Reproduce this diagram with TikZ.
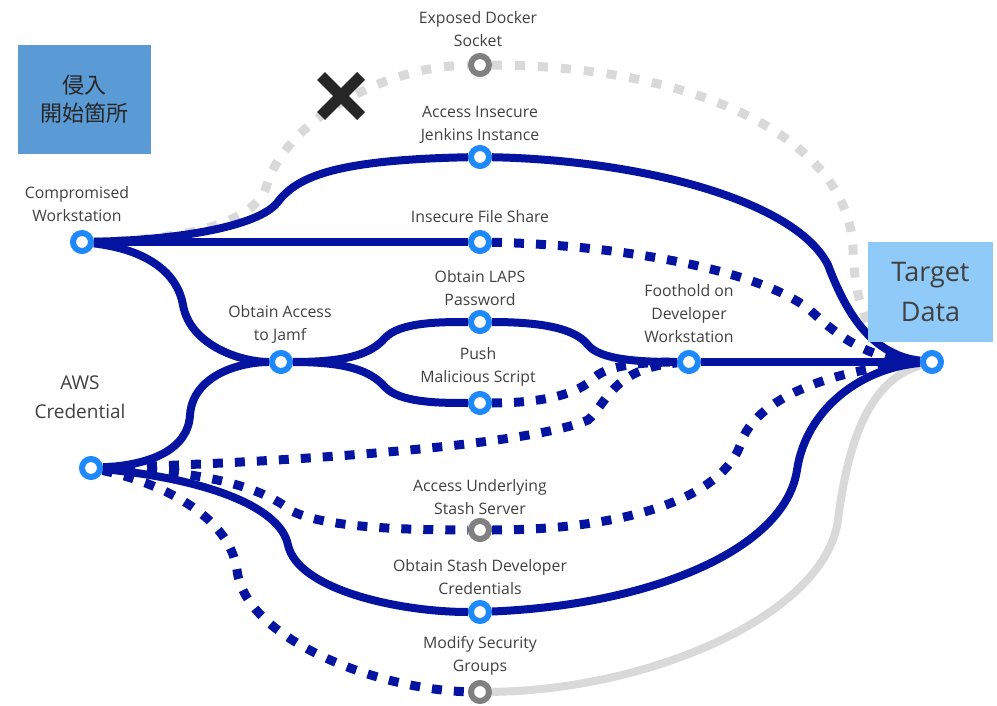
\documentclass[tikz,border=0pt]{standalone}
\usepackage{fontspec}
\setmainfont{Open Sans}
\newfontfamily\cjk{Noto Sans CJK JP}
\usetikzlibrary{shapes.misc}
\definecolor{pathnavy}{RGB}{5,20,160}
\definecolor{stepblue}{RGB}{30,136,255}
\definecolor{deadgray}{RGB}{128,128,128}
\definecolor{faintgray}{RGB}{217,217,217}
\definecolor{entryblue}{RGB}{91,155,213}
\definecolor{goalblue}{RGB}{144,202,249}
\definecolor{labeltext}{RGB}{64,64,64}

\begin{document}
\begin{tikzpicture}[x=1pt,y=-1pt,
  stepnode/.style={circle,draw=stepblue,fill=white,line width=6pt,minimum size=18pt,inner sep=0pt},
  deadnode/.style={stepnode,draw=deadgray},
  lbl/.style={align=center,text=labeltext,font=\fontsize{15.8}{23}\selectfont,inner sep=0pt},
  hop/.style={draw=pathnavy,line width=8pt},
  tryhop/.style={draw=pathnavy,line width=9pt,dash pattern=on 10pt off 12pt},
  ghost/.style={draw=faintgray,line width=9pt,dash pattern=on 10pt off 13pt},
  ghostline/.style={draw=faintgray,line width=8pt}]
    \useasboundingbox (0,0) rectangle (997,706);
    % attack steps
    \node[stepnode] (cw) at (82,242) {};
    \node[stepnode] (aws) at (91,468) {};
    \node[deadnode] (dock) at (480,65) {};
    \node[stepnode] (jen) at (480,157) {};
    \node[stepnode] (fs) at (480,242) {};
    \node[stepnode] (jamf) at (281,362) {};
    \node[stepnode] (laps) at (480,322) {};
    \node[stepnode] (push) at (480,403) {};
    \node[stepnode] (foot) at (689,362) {};
    \node[deadnode] (stash) at (480,530) {};
    \node[stepnode] (sdc) at (480,612) {};
    \node[deadnode] (msg) at (480,692) {};
    \node[stepnode] (tgt) at (932,362) {};

    % grey routes
    \draw[ghost] (cw) .. controls (170,240) and (250,228) .. (266,188) .. controls (282,125) and (380,66) .. (dock);
    \draw[ghost] (dock) .. controls (700,66) and (850,140) .. (853,250) .. controls (855,320) and (880,358) .. (tgt);
    \draw[ghostline] (msg) .. controls (650,690) and (825,615) .. (838,520) .. controls (848,440) and (870,380) .. (tgt);
    \node[cross out,draw=black!85,line width=11pt,minimum size=29pt] (blocked) at (341,96) {};

    % solid routes
    \draw[hop] (cw) .. controls (180,240) and (258,226) .. (277,203) .. controls (296,178) and (330,160) .. (jen);
    \draw[hop] (jen) .. controls (640,160) and (795,200) .. (828,265) .. controls (845,310) and (870,355) .. (tgt);
    \draw[hop] (cw) -- (fs);
    \draw[hop] (cw) .. controls (150,250) and (178,275) .. (183,305) .. controls (190,345) and (240,362) .. (jamf);
    \draw[hop] (aws) .. controls (150,465) and (188,450) .. (190,415) .. controls (193,375) and (240,362) .. (jamf);
    \draw[hop] (jamf) .. controls (345,362) and (370,355) .. (385,338) .. controls (400,322) and (440,322) .. (laps);
    \draw[hop] (jamf) .. controls (345,362) and (370,370) .. (385,387) .. controls (400,403) and (440,403) .. (push);
    \draw[hop] (laps) .. controls (540,322) and (575,328) .. (588,345) .. controls (600,360) and (640,362) .. (foot);
    \draw[hop] (foot) -- (tgt);
    \draw[hop] (aws) .. controls (200,478) and (280,505) .. (288,545) .. controls (298,590) and (400,612) .. (sdc);
    \draw[hop] (sdc) .. controls (650,605) and (785,550) .. (797,470) .. controls (806,410) and (860,368) .. (tgt);

    % dotted routes
    \draw[tryhop] (fs) .. controls (620,245) and (760,270) .. (810,310) .. controls (840,338) and (870,360) .. (tgt);
    \draw[tryhop] (push) .. controls (540,403) and (578,395) .. (595,377) .. controls (610,364) and (650,362) .. (foot);
    \draw[tryhop] (aws) .. controls (300,462) and (530,445) .. (588,420) .. controls (606,405) and (612,368) .. (foot);
    \draw[tryhop] (aws) .. controls (200,470) and (262,487) .. (290,510) .. controls (320,527) and (400,530) .. (stash);
    \draw[tryhop] (stash) .. controls (620,530) and (725,500) .. (742,440) .. controls (760,395) and (840,368) .. (tgt);
    \draw[tryhop] (aws) .. controls (170,485) and (230,520) .. (237,570) .. controls (245,640) and (380,690) .. (msg);

    % labels
    \node[lbl] (docklbl) at (478,29) {Exposed Docker\\Socket};
    \node[lbl] (jenlbl) at (480,125) {Access Insecure\\Jenkins Instance};
    \node[lbl] (fslbl) at (480,217) {Insecure File Share};
    \node[lbl] (cwlbl) at (77,204) {Compromised\\Workstation};
    \node[lbl,font=\fontsize{19}{29}\selectfont] (awslbl) at (80,397) {AWS\\Credential};
    \node[lbl] (jamflbl) at (280,324) {Obtain Access\\to Jamf};
    \node[lbl] (lapslbl) at (480,288) {Obtain LAPS\\Password};
    \node[lbl] (pushlbl) at (478,367) {Push\\Malicious Script};
    \node[lbl] (footlbl) at (689,314) {Foothold on\\Developer\\Workstation};
    \node[lbl] (stashlbl) at (480,497) {Access Underlying\\Stash Server};
    \node[lbl] (sdclbl) at (480,577) {Obtain Stash Developer\\Credentials};
    \node[lbl] (msglbl) at (480,656) {Modify Security\\Groups};

    % boxes
    \node[fill=entryblue,minimum width=133pt,minimum height=109pt,align=center,text=black!85,font=\cjk\fontsize{22}{28}\selectfont] (entry) at (84.5,99.5) {侵入\\開始箇所};
    \node[fill=goalblue,minimum width=125pt,minimum height=100pt,align=center,text=labeltext,font=\fontsize{27}{40}\selectfont] (goalbox) at (930.5,292) {Target\\Data};
\end{tikzpicture}
\end{document}
